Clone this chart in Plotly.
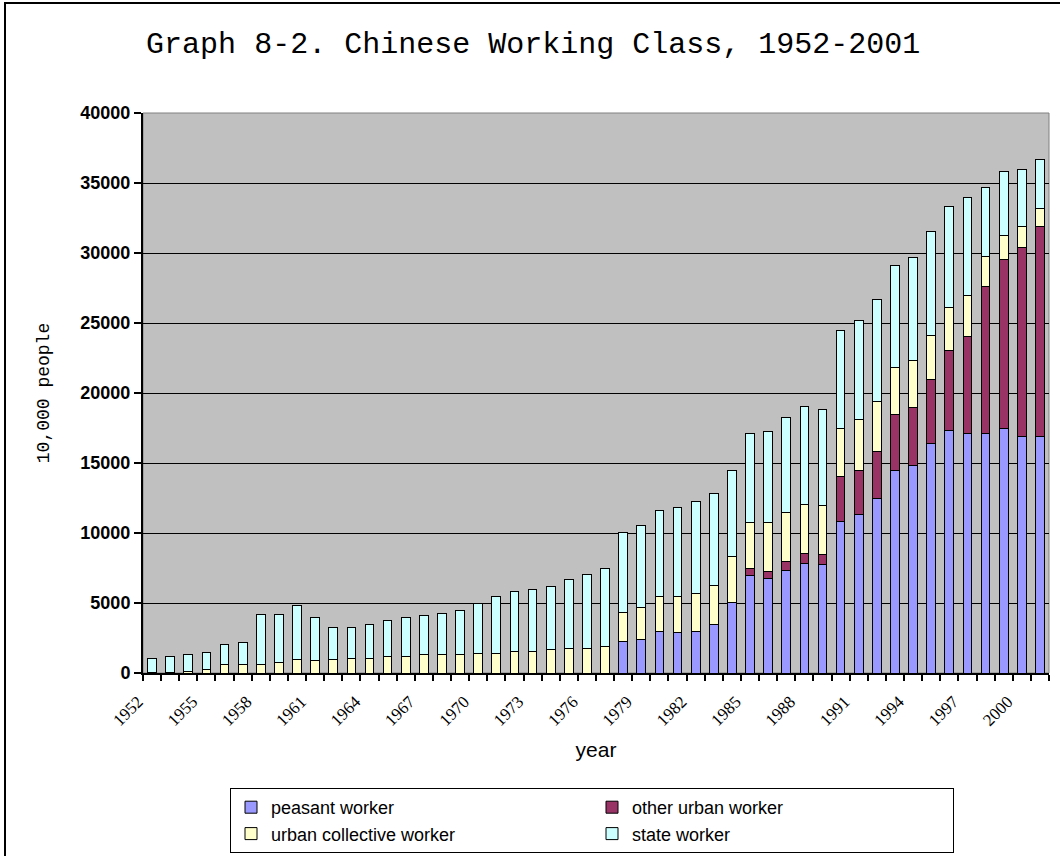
import plotly.graph_objects as go

years = list(range(1952, 2002))

# 10,000 people (stack order bottom -> top)
peasant = [0]*26 + [2260, 2380, 2990, 2860, 2990, 3470, 5020, 6990, 6730, 7340,
                    7830, 7730, 10840, 11350, 12440, 14480, 14840, 16400, 17340,
                    17110, 17110, 17470, 16880, 16880]
other_urban = [0]*33 + [510, 510, 620, 740, 710, 3190, 3110, 3370, 3960, 4110,
                        4590, 5690, 6940, 10530, 12090, 13540, 15000]
urban_collective = [20, 30, 120, 270, 600, 600, 600, 740, 930, 920, 950, 1060,
                    1060, 1200, 1200, 1320, 1320, 1320, 1420, 1420, 1540, 1540,
                    1660, 1780, 1780, 1900, 2040, 2330, 2450, 2580, 2680, 2780,
                    3320, 3240, 3500, 3490, 3490, 3490, 3460, 3620, 3600, 3410,
                    3340, 3130, 3060, 2880, 2090, 1680, 1460, 1300]
state = [1050, 1170, 1220, 1180, 1450, 1590, 3610, 3470, 3910, 3060, 2300, 2190,
         2430, 2530, 2790, 2790, 2910, 3150, 3510, 4010, 4250, 4400, 4520, 4900,
         5240, 5600, 5770, 5840, 6160, 6410, 6550, 6550, 6120, 6370, 6500, 6780,
         7010, 6890, 6990, 7110, 7240, 7250, 7420, 7400, 7240, 7010, 4930, 4610,
         4100, 3520]

series_names = ["peasant worker", "other urban worker",
                "urban collective worker", "state worker"]
series_values = [peasant, other_urban, urban_collective, state]
series_colors = ["#9999FF", "#993366", "#FFFFCC", "#CCFFFF"]

label_years = years[::3]
tick_labels = [str(y) for y in label_years]
y_ticks = list(range(0, 40001, 5000))

fig = go.Figure()
for name, vals, col in zip(series_names, series_values, series_colors):
    fig.add_trace(go.Bar(
        x=years, y=vals, name=name,
        marker=dict(color=col, line=dict(color="black", width=1)),
    ))

fig.update_layout(
    width=1060, height=856,
    margin=dict(l=143, r=11, t=113, b=183),
    paper_bgcolor="white",
    plot_bgcolor="#C0C0C0",
    barmode="stack",
    bargap=0.52,
    title=dict(
        text="Graph 8-2. Chinese Working Class, 1952-2001",
        font=dict(family="Liberation Mono", size=30, color="black"),
        x=0.503, xanchor="center", y=1 - 42/856, yanchor="middle",
    ),
    legend=dict(
        orientation="h",
        traceorder="normal",
        xref="container", yref="container",
        x=230/1060, xanchor="left",
        y=1 - 788/856, yanchor="top",
        entrywidth=316, entrywidthmode="pixels",
        bordercolor="black", borderwidth=1, bgcolor="white",
        font=dict(family="Liberation Sans", size=18, color="black"),
    ),
    showlegend=True,
)

fig.update_xaxes(
    range=[years[0] - 0.5, years[-1] + 0.5],
    tickmode="array", tickvals=label_years, ticktext=tick_labels,
    tickangle=-45,
    tickfont=dict(family="Liberation Serif", size=17, color="black"),
    ticks="", ticklabelshift=-14, ticklabelstandoff=10,
    minor=dict(tickmode="array",
               tickvals=[y - 0.5 for y in years] + [years[-1] + 0.5],
               ticks="outside", ticklen=6, tickwidth=2, tickcolor="black",
               showgrid=False),
    showline=True, linecolor="black", linewidth=2,
    showgrid=False, zeroline=False,
    title=dict(text="year", font=dict(family="Liberation Sans", size=21, color="black"),
               standoff=14),
)

fig.update_yaxes(
    range=[0, 40000],
    tickmode="array", tickvals=y_ticks, ticktext=[str(v) for v in y_ticks],
    ticks="outside", ticklen=7, tickwidth=2, tickcolor="black",
    tickfont=dict(family="Liberation Sans", size=18, color="black", weight="bold"),
    showline=True, linecolor="black", linewidth=2,
    showgrid=True, gridcolor="black", gridwidth=1,
    zeroline=False,
    title=dict(text="10,000 people",
               font=dict(family="Liberation Mono", size=18, color="black"),
               standoff=26),
)

# plot-area frame (gray) and chart border (black)
fig.add_shape(type="rect", xref="paper", yref="paper", x0=0, y0=0, x1=1, y1=1,
              line=dict(color="#808080", width=1), layer="below")
fig.add_shape(type="rect", xref="paper", yref="paper",
              x0=(5 - 143)/906, y0=(673 - 870)/560, x1=(1075 - 143)/906, y1=(673 - 3)/560,
              line=dict(color="black", width=2), layer="below")

fig.write_html("out.html")
